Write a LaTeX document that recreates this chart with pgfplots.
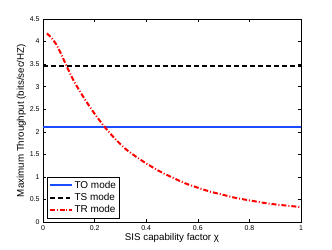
\documentclass[border=0pt]{standalone}
\usepackage{fontspec}
\setmainfont{Liberation Sans}
\usepackage{pgfplots}
\pgfplotsset{compat=1.18}
\definecolor{mblue}{rgb}{0.1,0.3,1}
\begin{document}
\begin{tikzpicture}
\path[use as bounding box] (-43bp,-28bp) rectangle (289bp,222bp);
\begin{axis}[
  scale only axis,
  width=258bp, height=203bp,
  xmin=0, xmax=1, ymin=0, ymax=4.5,
  xtick={0,0.2,0.4,0.6,0.8,1},
  ytick={0,0.5,1,1.5,2,2.5,3,3.5,4,4.5},
  tick align=inside,
  tick style={black, thin},
  major tick length=3bp,
  axis line style={black, line width=0.6pt},
  /pgf/number format/assume math mode=true,
  tick label style={font=\fontsize{7}{8}\selectfont},
  xlabel={SIS capability factor χ},
  ylabel={Maximum Throughput (bits/sec/HZ)},
  label style={font=\fontsize{9.8}{10}\selectfont},
  xlabel style={yshift=4bp},
  ylabel style={yshift=-3bp},
  legend style={at={(0.015,0.02)}, anchor=south west, font=\fontsize{10}{12}\selectfont,
    draw=black, row sep=-0.5pt, inner sep=1.5pt},
  legend cell align=left,
  legend image code/.code={\draw[#1, line width=2pt] (0bp,0bp) -- (22bp,0bp);},
]
\addplot[mblue, line width=2pt] coordinates {(0,2.1) (1,2.1)};
\addlegendentry{TO mode}
\addplot[black, line width=2pt, dash pattern=on 5pt off 3pt] coordinates {(0,3.45) (1,3.45)};
\addlegendentry{TS mode}
\addplot[red, line width=2pt, smooth, dash pattern=on 5pt off 2pt on 1pt off 2pt] coordinates {
(0.015,4.18) (0.03,4.1) (0.05,3.95) (0.07,3.73) (0.092,3.45) (0.12,3.12) (0.16,2.74)
(0.2,2.4) (0.24,2.1) (0.28,1.84) (0.32,1.62) (0.36,1.45) (0.4,1.30) (0.45,1.13)
(0.5,0.99) (0.55,0.86) (0.6,0.76) (0.65,0.67) (0.7,0.60) (0.75,0.53) (0.8,0.48)
(0.85,0.43) (0.9,0.39) (0.95,0.36) (1.0,0.33)};
\addlegendentry{TR mode}
\end{axis}
\end{tikzpicture}
\end{document}
